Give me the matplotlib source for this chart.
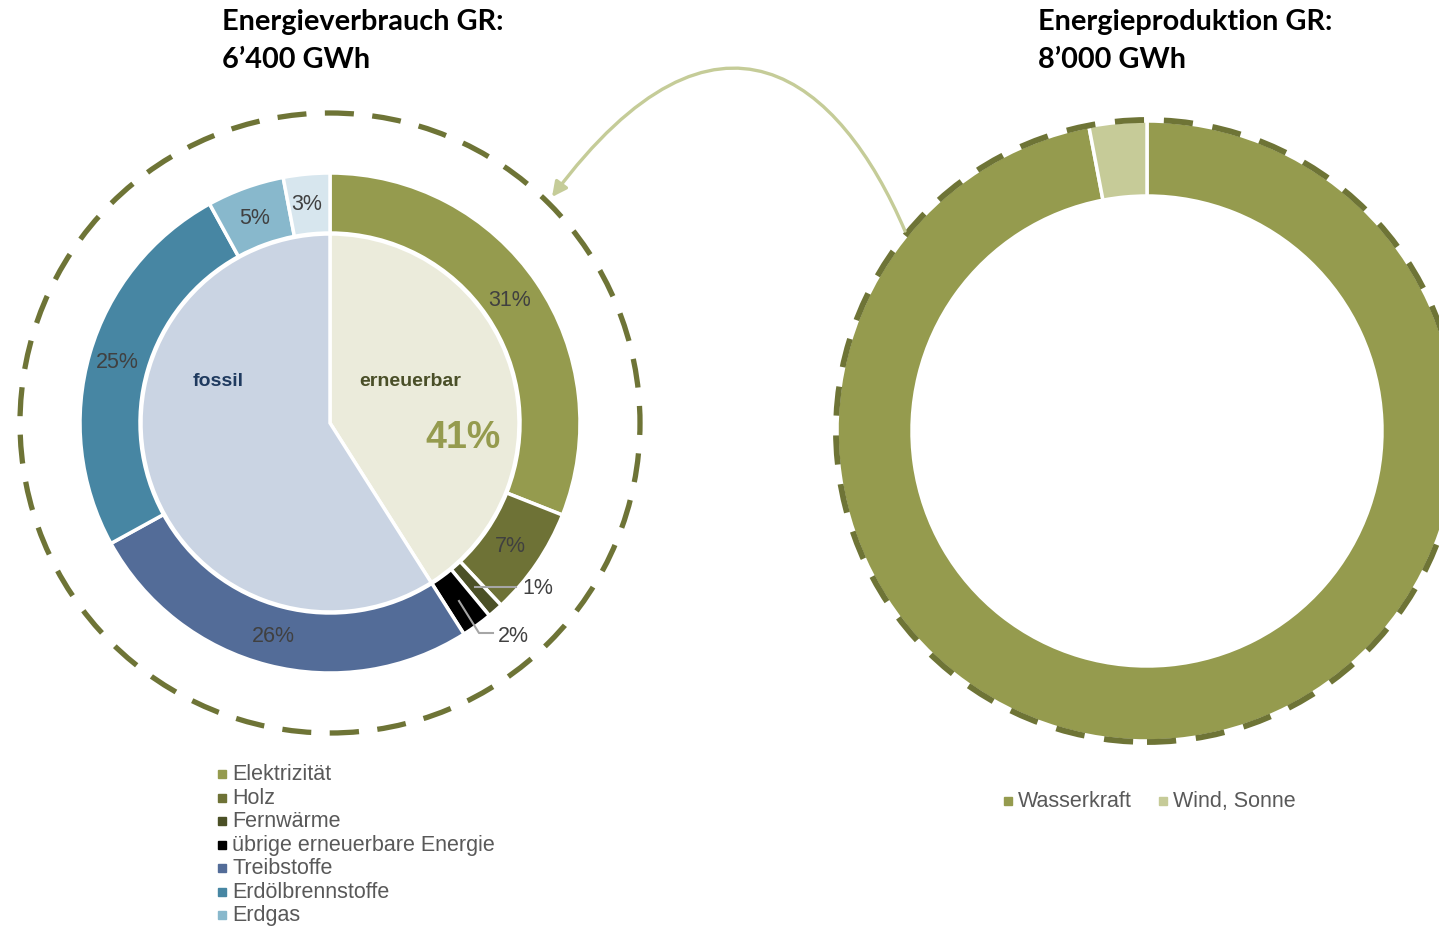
import matplotlib
matplotlib.use('Agg')
import matplotlib.pyplot as plt
from matplotlib.patches import Circle, FancyArrowPatch
from matplotlib.path import Path

# Verbrauch (aussen) und Anteile erneuerbar / fossil (innen)
verbrauch_labels = ['Elektrizität', 'Holz', 'Fernwärme', 'übrige erneuerbare Energie',
                    'Treibstoffe', 'Erdölbrennstoffe', 'Erdgas', 'andere']
verbrauch_values = [31, 7, 1, 2, 26, 25, 5, 3]
verbrauch_colors = ['#959B4E', '#6E7236', '#4B5026', '#000000',
                    '#536C98', '#4786A3', '#88B8CC', '#D7E6EE']
inner_labels = ['erneuerbar', 'fossil']
inner_values = [41, 59]
inner_colors = ['#EBEBDB', '#CAD4E3']

# Produktion
prod_labels = ['Wasserkraft', 'Wind, Sonne']
prod_values = [97, 3]
prod_colors = ['#959B4E', '#C6CB98']

H = 928


def fy(y):
    return H - y


fig = plt.figure(figsize=(14.39, 9.28), dpi=100)
ax = fig.add_axes([0, 0, 1, 1])

# left donut
cl = (330, fy(424))
ax.pie(verbrauch_values, colors=verbrauch_colors, radius=250, center=cl, startangle=90,
       counterclock=False, wedgeprops=dict(width=60, edgecolor='white', linewidth=2.5))
ax.pie(inner_values, colors=inner_colors, radius=189, center=cl, startangle=90,
       counterclock=False, wedgeprops=dict(edgecolor='white', linewidth=2.5))
ax.add_patch(Circle(cl, 310, fill=False, edgecolor='#6E7436', linewidth=3.8,
                    linestyle=(0, (5.5, 3.5))))

# right donut
cr = (1147, fy(432))
ax.pie(prod_values, colors=prod_colors, radius=310, center=cr, startangle=90,
       counterclock=False, wedgeprops=dict(width=75, edgecolor='white', linewidth=2.5))
ax.add_patch(Circle(cr, 311, fill=False, edgecolor='#6E7436', linewidth=4.2,
                    linestyle=(0, (5.0, 3.4))))

ax.set_xlim(0, 1439)
ax.set_ylim(0, H)
ax.set_aspect('equal')
ax.axis('off')

# percentage labels
pct_font = dict(fontsize=15.5, color='#404040', family='Liberation Sans', ha='center', va='center')
pct_pos = [(510, 300), (510, 547), (538, 589), (513, 636), (273, 636), (117, 362), (255, 218), (307, 205)]
for v, (x, y) in zip(verbrauch_values, pct_pos):
    ax.text(x, fy(y), f'{v}%', **pct_font)
# leader lines for the small slices
ax.plot([475, 516], [fy(588), fy(588)], color='#A6A6A6', lw=1.5)
ax.plot([459, 479, 493], [fy(602), fy(634), fy(634)], color='#A6A6A6', lw=1.5)

ax.text(218, fy(381), 'fossil', fontsize=14, fontweight='bold', color='#1F3A5F',
        family='Liberation Sans', ha='center', va='center')
ax.text(410, fy(381), 'erneuerbar', fontsize=14, fontweight='bold', color='#4A4F28',
        family='Liberation Sans', ha='center', va='center')
ax.text(463, fy(438), f'{inner_values[0]}%', fontsize=27, fontweight='bold', color='#959B4E',
        family='Liberation Sans', ha='center', va='center')

# titles
title_font = dict(fontsize=20.8, fontweight='bold', color='black', family=['Lato', 'DejaVu Sans'],
                  ha='left', va='top', linespacing=1.55)
ax.text(222, fy(9), 'Energieverbrauch GR:\n6’400 GWh', **title_font)
ax.text(1038, fy(9), 'Energieproduktion GR:\n8’000 GWh', **title_font)

# arrow from production to consumption
verts = [(905, fy(232)), (840, fy(80)), (718, fy(-25)), (552, fy(198))]
arrow_path = Path(verts, [Path.MOVETO, Path.CURVE4, Path.CURVE4, Path.CURVE4])
ax.add_patch(FancyArrowPatch(path=arrow_path, arrowstyle='-|>', mutation_scale=22,
                             color='#C5CC98', lw=2.4))

# legends
leg_font = dict(fontsize=15.5, color='#595959', family='Liberation Sans', ha='left', va='center')
for i, (lab, col) in enumerate(zip(verbrauch_labels[:7], verbrauch_colors[:7])):
    y = fy(775 + i * 23.5)
    ax.plot(222, y, marker='s', ms=6, color=col, ls='none')
    ax.text(232, y, lab, **leg_font)
for (lab, col), x in zip(zip(prod_labels, prod_colors), [1008, 1163]):
    ax.plot(x, fy(802), marker='s', ms=6, color=col, ls='none')
    ax.text(x + 10, fy(802), lab, **leg_font)

fig.savefig('out.png', dpi=100, facecolor='white')
